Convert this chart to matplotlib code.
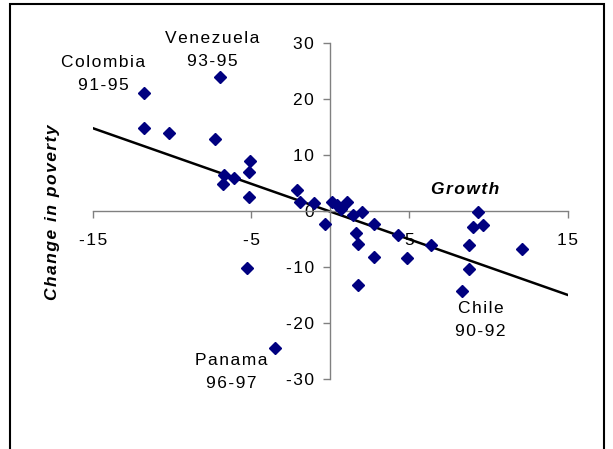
import numpy as np
import matplotlib
matplotlib.use("Agg")
import matplotlib.pyplot as plt
from matplotlib.patches import Rectangle

plt.rcParams['font.family'] = ['Liberation Sans', 'DejaVu Sans']
plt.rcParams['axes.unicode_minus'] = False

# growth vs change in poverty
growth = [-11.8, -7.0, -11.8, -10.2, -7.3, -5.06, -5.15, -5.15, -6.7, -6.8, -6.06,
          -5.25, -3.52,
          -2.1, -1.9, -1.0, -0.36, 0.1, 0.4, 0.65, 1.05, 1.43, 2.03, 1.6, 1.75, 1.75,
          2.76, 2.76, 4.3, 4.87, 6.39,
          9.34, 9.03, 9.66, 8.77, 12.09, 8.77, 8.35]
poverty = [21.0, 23.9, 14.8, 13.9, 12.8, 8.9, 6.95, 2.5, 6.5, 4.9, 5.8,
           -10.1, -24.5,
           3.8, 1.6, 1.4, -2.4, 1.6, 1.1, 0.3, 1.6, -0.8, -0.2, -3.9, -5.9, -13.2,
           -2.4, -8.2, -4.3, -8.3, -6.1,
           -0.2, -2.85, -2.55, -6.1, -6.7, -10.3, -14.3]

trend_x = [-15, 15]
trend_slope = -0.99
trend_intercept = -0.1

labels = ["Venezuela\n93-95", "Colombia\n91-95", "Panama\n96-97", "Chile\n90-92"]
label_x = [-7.45, -14.37, -6.28, 9.51]
label_y = [28.7, 24.4, -28.7, -19.4]

x_ticks = [-15, -5, 5, 15]
y_ticks = [-30, -20, -10, 0, 10, 20, 30]


def spaced(s):
    # the original text is set with loose letter spacing
    return "\n".join("\u200a".join(line) for line in s.split("\n"))


fig = plt.figure(figsize=(6.13, 4.49), dpi=100)
fig.patches.append(Rectangle((10 / 613, -0.05), 594 / 613, 1 - 4 / 449 + 0.05,
                             transform=fig.transFigure, fill=False,
                             edgecolor='black', linewidth=1.5))

ax = fig.add_axes([93 / 613, 1 - 379.3 / 449, 474.6 / 613, 336.6 / 449])
ax.set_xlim(-15, 15)
ax.set_ylim(-30, 30)

for side in ['top', 'right']:
    ax.spines[side].set_visible(False)
ax.spines['left'].set_position(('data', 0))
ax.spines['bottom'].set_position(('data', 0))
for side in ['left', 'bottom']:
    ax.spines[side].set_color('#808080')
    ax.spines[side].set_linewidth(1.0)

ax.set_xticks(x_ticks)
ax.set_xticklabels([spaced(str(v)) for v in x_ticks])
ax.set_yticks(y_ticks)
ax.set_yticklabels([spaced(str(v)) for v in y_ticks])
ax.tick_params(axis='both', direction='out', length=5, width=1.0,
               color='#808080', labelsize=12.5)
ax.tick_params(axis='x', pad=11)
ax.tick_params(axis='y', pad=7)

tx = np.array(trend_x)
ax.plot(tx, trend_slope * tx + trend_intercept, color='black', linewidth=1.8, zorder=2)
ax.plot(growth, poverty, linestyle='none', marker='D', markersize=6,
        color='#000080', zorder=3)

for t, lx, ly in zip(labels, label_x, label_y):
    ax.text(lx, ly, spaced(t), ha='center', va='center', multialignment='center',
            fontsize=12.5, linespacing=1.7)

fig.text(465 / 613, 1 - 190 / 449, spaced("Growth"), ha='center', va='center',
         fontsize=12.5, fontweight='bold', fontstyle='italic')
fig.text(53 / 613, 1 - 212 / 449, spaced("Change in poverty"), ha='center', va='center',
         rotation=90, fontsize=12.5, fontweight='bold', fontstyle='italic')

fig.savefig("out.png", dpi=100)
